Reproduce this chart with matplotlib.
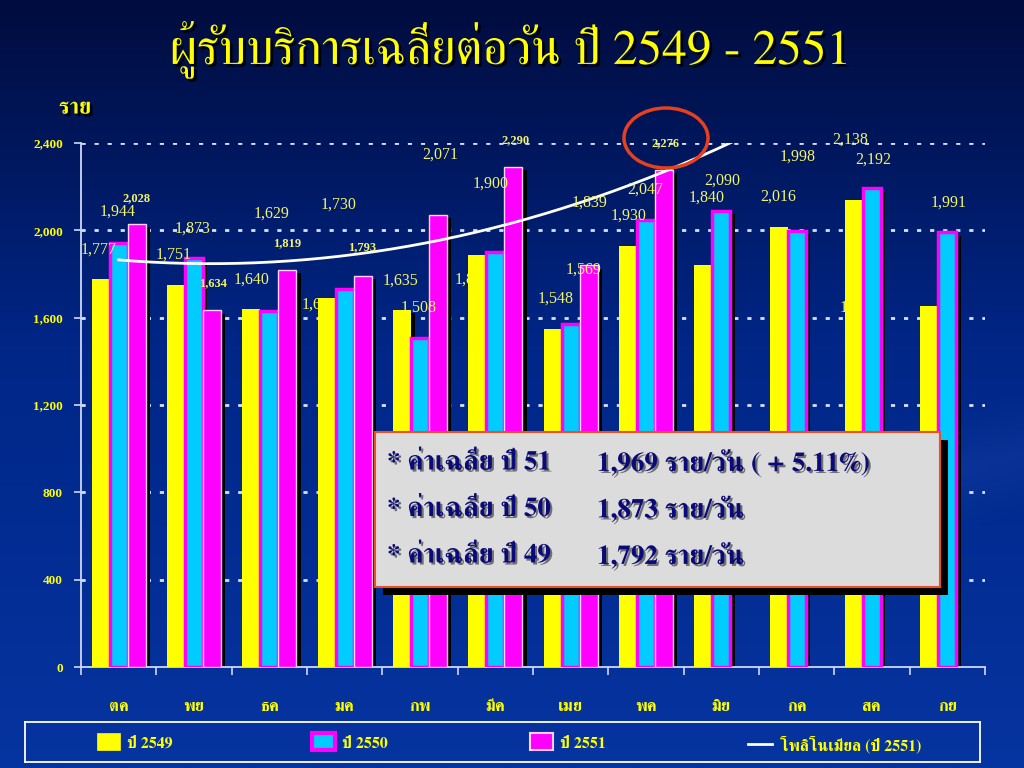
import matplotlib
matplotlib.use('Agg')
import matplotlib.pyplot as plt
import matplotlib.patheffects as pe
from matplotlib.patches import Rectangle, Ellipse
from matplotlib import font_manager as fm
from matplotlib.ft2font import FT2Font
import numpy as np

# ── data ─────────────────────────────────────────────────────────────────────
months = ['ตค', 'พย', 'ธค', 'มค', 'กพ', 'มีค', 'เมย', 'พค', 'มิย', 'กค', 'สค', 'กย']
y2549 = [1777, 1751, 1640, 1692, 1635, 1888, 1548, 1930, 1840, 2016, 2138, 1652]
y2550 = [1944, 1873, 1629, 1730, 1508, 1900, 1569, 2047, 2090, 1998, 2192, 1991]
y2551 = [2028, 1634, 1819, 1793, 2071, 2290, 1839, 2276]
series_names = ['ปี 2549', 'ปี 2550', 'ปี 2551']
trend_name = 'โพลิโนเมียล (ปี 2551)'
yticks = [0, 400, 800, 1200, 1600, 2000, 2400]
avg_labels = ['* ค่าเฉลี่ย ปี 51', '* ค่าเฉลี่ย ปี 50', '* ค่าเฉลี่ย ปี 49']
avg_values = ['1,969 ราย/วัน ( + 5.11%)', '1,873 ราย/วัน', '1,792 ราย/วัน']

# data-label offsets from bar top (pixels: dx, dy up) as dragged in the slide
off49 = [(-2, 29), (-2, 30), (0, 29), (-7, -7), (-1, 29), (-5, -25),
         (3, 30), (1, 30), (3, 68), (0, 30), (-4, 61), (-72, -1)]
off50 = [(-1, 31), (-1, 29), (2, 98), (-6, 85), (-1, 30), (-5, 69),
         (13, 55), (-1, 30), (1, 30), (1, 74), (1, 29), (1, 30)]
off51 = [(0, 26), (1, 27), (0, 27), (-1, 28), (2, 60), (2, 27), (1, 63), (1, 27)]
bold51 = [True, True, True, True, False, True, False, True]
hidden49 = [3, 5, 11]          # labels that sit behind neighbouring bars


# ── fonts ────────────────────────────────────────────────────────────────────
def find_thai():
    found = []
    for f in fm.fontManager.ttflist:
        try:
            if 0x0E23 in FT2Font(f.fname).get_charmap():
                found.append(f.name)
        except Exception:
            pass
    if not found:
        return 'DejaVu Sans'
    for n in found:
        if 'Serif' in n:
            return n
    return found[0]

THAI = find_thai()
SERIF = 'Liberation Serif'
TH = [THAI, SERIF, 'DejaVu Sans']
YEL = '#ffff00'
LBL = '#f4f46a'

W, H = 1024, 768
def fx(px): return px / W
def fy(py): return 1 - py / H

fig = plt.figure(figsize=(W / 100, H / 100), dpi=100)

# ── background gradient ─────────────────────────────────────────────────────
bg = fig.add_axes([0, 0, 1, 1], zorder=-10)
yy, xx = np.mgrid[0:1:300j, 0:1:400j]
top = np.array([0, 12, 62]) / 255
mid = np.array([0, 38, 135]) / 255
bot = np.array([6, 52, 160]) / 255
t = yy[..., None]
img = np.where(t < 0.45, top + (mid - top) * (t / 0.45),
               mid + (bot - mid) * ((t - 0.45) / 0.55))
fade = np.clip((xx - 0.6) / 0.3, 0, 1) * np.clip((yy - 0.3) / 0.3, 0, 1)
band = np.clip(1 - np.abs((yy - 0.62) + (xx - 0.9) * 0.3) / 0.08, 0, 1) * fade * 0.035
img = np.clip(img + band[..., None], 0, 1)
bg.imshow(img, extent=[0, 1, 0, 1], aspect='auto', origin='upper')
bg.axis('off')

# ── title ────────────────────────────────────────────────────────────────────
shadow = [pe.SimplePatchShadow(offset=(2, -2), shadow_rgbFace='black', alpha=0.9), pe.Normal()]
fig.text(fx(510), fy(50), 'ผู้รับบริการเฉลี่ยต่อวัน ปี 2549 - 2551', family=TH,
         fontsize=35.5, color=YEL, ha='center', va='center', path_effects=shadow)
fig.text(fx(75), fy(108), 'ราย', family=TH, fontsize=16, fontweight='bold',
         color=YEL, ha='center', va='center', path_effects=shadow)

# ── main axes ───────────────────────────────────────────────────────────────
ax = fig.add_axes([fx(81), fy(667), (985 - 81) / W, (667 - 143) / H])
ax.set_facecolor('none')
ax.set_xlim(-0.5, 11.5)
ax.set_ylim(0, 2400)

x = np.arange(len(months))
w = 0.24
for yv in yticks[1:]:
    ax.axhline(yv, color='#d8e0f4', lw=2, dashes=(1.5, 3.2), zorder=1)

specs = [
    (y2549, -w, dict(color=YEL, edgecolor=YEL, linewidth=0)),
    (y2550, 0.0, dict(color='#00ccff', edgecolor='#ff00ff', linewidth=2.5)),
    (y2551, w, dict(color='#ff00ff', edgecolor='#ffd0ff', linewidth=1)),
]
for vals, dx, st in specs:
    xs = x[:len(vals)] + dx
    v = np.array(vals)
    ax.bar(xs + 0.055, v - 15, width=w, color='black', zorder=2.5)
    ax.bar(xs, v, width=w, zorder=3, **st)

# trend line (2nd-order polynomial of 2551)
coef = np.polyfit(np.arange(len(y2551)), y2551, 2)
xt = np.linspace(0, 9, 200)
ax.plot(xt, np.polyval(coef, xt), color='white', lw=2, zorder=5)

# data labels
def put(xpos, v, off, bold=False, z=6):
    ax.annotate(f'{v:,}', xy=(xpos, v), xytext=(off[0] * 0.72, off[1] * 0.72),
                textcoords='offset points', ha='center', va='center',
                family=SERIF, fontsize=9 if bold else 11.5,
                fontweight='bold' if bold else 'normal', color=LBL,
                zorder=z, annotation_clip=False)

for i, v in enumerate(y2549):
    put(x[i] - w, v, off49[i], z=2 if i in hidden49 else 6)
for i, v in enumerate(y2550):
    put(x[i], v, off50[i])
for i, v in enumerate(y2551):
    put(x[i] + w, v, off51[i], bold=bold51[i])

# axes styling
for s in ['top', 'right']:
    ax.spines[s].set_visible(False)
for s in ['left', 'bottom']:
    ax.spines[s].set_color('#d0d8f4')
    ax.spines[s].set_linewidth(1.3)
ax.set_yticks(yticks)
ax.set_yticklabels([f'{v:,}' for v in yticks], family=SERIF, fontweight='bold',
                   fontsize=9.5, color=YEL)
ax.tick_params(axis='y', length=5, color='#d0d8f4', width=1.2, pad=8)
ax.set_xticks(x)
ax.set_xticklabels(months, family=TH, fontweight='bold', fontsize=12, color=YEL)
ax.tick_params(axis='x', length=0, pad=24)
ax.set_xticks(np.arange(-0.5, 12, 1), minor=True)
ax.tick_params(axis='x', which='minor', length=6, color='#d0d8f4', width=1.2)

# red highlight ellipse around the 2551 peak
fig.add_artist(Ellipse((fx(666), fy(138)), 84 / W, 60 / H, transform=fig.transFigure,
                       fill=False, edgecolor='#e8401c', lw=2.5, zorder=20))

# ── summary box ─────────────────────────────────────────────────────────────
fig.add_artist(Rectangle((fx(383), fy(595)), (940 - 375) / W, (587 - 432) / H,
                         transform=fig.transFigure, facecolor='black', zorder=21))
fig.add_artist(Rectangle((fx(375), fy(587)), (940 - 375) / W, (587 - 432) / H,
                         transform=fig.transFigure, facecolor='#dcdcdc',
                         edgecolor='#e8502a', lw=1.5, zorder=22))
tshadow = [pe.SimplePatchShadow(offset=(1.5, -1.5), shadow_rgbFace='#555555', alpha=0.8), pe.Normal()]
for k, (a, b) in enumerate(zip(avg_labels, avg_values)):
    yy_ = 463 + k * 46.5
    fig.text(fx(387), fy(yy_), a, family=TH, fontsize=19.5, fontweight='bold',
             color='#0a0a78', ha='left', va='center', zorder=23, path_effects=tshadow)
    fig.text(fx(597), fy(yy_), b, family=TH, fontsize=19.5, fontweight='bold',
             color='#0a0a78', ha='left', va='center', zorder=23, path_effects=tshadow)

# ── legend ──────────────────────────────────────────────────────────────────
lax = fig.add_axes([fx(25), fy(762), (980 - 25) / W, 40 / H])
lax.set_xlim(25, 980)
lax.set_ylim(762, 722)
lax.set_facecolor('none')
lax.set_xticks([])
lax.set_yticks([])
for s in lax.spines.values():
    s.set_color('white')
    s.set_linewidth(1.3)
hx = [97, 312, 530]
for (vals, dx, st), name, x0 in zip(specs, series_names, hx):
    lax.add_patch(Rectangle((x0, 733), 23, 17, facecolor=st['color'],
                            edgecolor=st['edgecolor'], lw=st['linewidth'] + 0.5))
    lax.text(x0 + 30, 744, name, family=TH, fontsize=11.5, fontweight='bold',
             color=YEL, ha='left', va='center')
lax.plot([748, 772], [744, 744], color='white', lw=2)
lax.text(780, 744, trend_name, family=TH, fontsize=11.5, fontweight='bold',
         color=YEL, ha='left', va='center')

fig.savefig('out.png', dpi=100)
